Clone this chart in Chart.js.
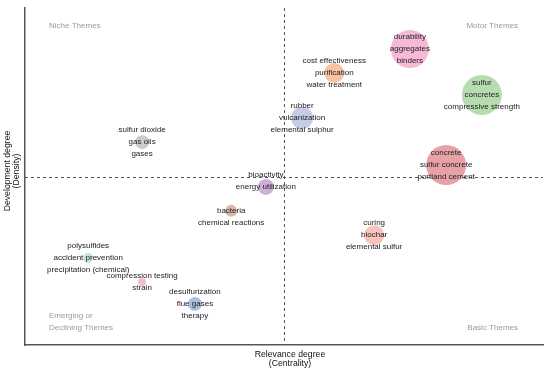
<!DOCTYPE html>
<html>
<head>
<meta charset="utf-8">
<script src="https://cdn.jsdelivr.net/npm/chart.js@4/dist/chart.umd.min.js"></script>
<style>
  html, body { margin: 0; padding: 0; background: #ffffff; }
  #wrap { width: 550px; height: 369px; position: relative; }
</style>
</head>
<body>
<div id="wrap"><canvas id="c" width="550" height="369"></canvas></div>
<script>
// Theme labels (each cluster's top keywords)
const themeLabels = [
  ["sulfur dioxide", "gas oils", "gases"],
  ["durability", "aggregates", "binders"],
  ["cost effectiveness", "purification", "water treatment"],
  ["sulfur", "concretes", "compressive strength"],
  ["rubber", "vulcanization", "elemental sulphur"],
  ["concrete", "sulfur concrete", "portland cement"],
  ["bioactivity", "energy utilization"],
  ["bacteria", "chemical reactions"],
  ["curing", "biochar", "elemental sulfur"],
  ["polysulfides", "accident prevention", "precipitation (chemical)"],
  ["compression testing", "strain"],
  ["desulfurization", "flue gases", "therapy"]
];
// Relevance degree (centrality), 0-100 scale
const centrality = [22.6, 74.3, 59.7, 88.2, 53.5, 81.3, 46.5, 39.8, 67.4, 12.2, 22.6, 32.8];
// Development degree (density), 0-100 scale
const density = [60.2, 87.8, 80.7, 74.2, 67.4, 53.4, 46.9, 39.8, 32.6, 25.8, 18.7, 12.2];
// Bubble size (theme weight)
const bubbleSize = [7, 19, 10, 20, 11, 20, 8, 6, 10, 5, 4, 7];
// Theme colours
const themeColors = ["#cbcbcb", "#f6b9d6", "#f8c3a2", "#b6dcb0", "#c6cce6", "#e8a2a6",
                     "#cdaed7", "#d9b8aa", "#f9c3bb", "#c4e6d3", "#f2bcd6", "#aabfdc"];
// Which label line sits on the bubble centre (null = centred block)
const labelAnchorLine = [null, null, null, null, null, null, 1, 0, null, null, null, null];
// Median split values
const medianX = 50;
const medianY = 50;

const points = centrality.map((x, i) => ({ x: x, y: density[i], r: bubbleSize[i] }));

const FONT = '"Liberation Sans", Arial, Helvetica, sans-serif';

const overlay = {
  id: 'overlay',
  beforeDatasetsDraw(chart) {
    const { ctx, chartArea: a, scales: { x, y } } = chart;
    ctx.save();
    ctx.strokeStyle = '#555';
    ctx.lineWidth = 1;
    ctx.setLineDash([3, 3]);
    const mx = Math.round(x.getPixelForValue(medianX)) + 0.5;
    const my = Math.round(y.getPixelForValue(medianY)) + 0.5;
    ctx.beginPath(); ctx.moveTo(mx, a.top); ctx.lineTo(mx, a.bottom); ctx.stroke();
    ctx.beginPath(); ctx.moveTo(a.left, my); ctx.lineTo(a.right, my); ctx.stroke();
    ctx.restore();
  },
  afterDatasetsDraw(chart) {
    const { ctx, chartArea: a } = chart;
    const meta = chart.getDatasetMeta(0);
    ctx.save();
    ctx.font = '8px ' + FONT;
    ctx.fillStyle = '#222';
    ctx.textAlign = 'center';
    ctx.textBaseline = 'middle';
    const lh = 12;
    meta.data.forEach((el, i) => {
      const lines = themeLabels[i];
      const anchor = labelAnchorLine[i];
      const start = anchor === null ? -(lines.length - 1) / 2 : -anchor;
      lines.forEach((t, k) => {
        ctx.fillText(t, el.x, el.y + (start + k) * lh);
      });
    });
    // quadrant names
    ctx.fillStyle = '#9a9a9a';
    ctx.textAlign = 'left';
    ctx.fillText('Niche Themes', a.left + 24, a.top + 18);
    ctx.fillText('Emerging or', a.left + 24, a.bottom - 29);
    ctx.fillText('Declining Themes', a.left + 24, a.bottom - 17);
    ctx.textAlign = 'right';
    ctx.fillText('Motor Themes', a.right - 25, a.top + 18);
    ctx.fillText('Basic Themes', a.right - 25, a.bottom - 17);
    // axis titles
    ctx.fillStyle = '#111';
    ctx.font = '8.7px ' + FONT;
    ctx.textAlign = 'center';
    ctx.fillText('Relevance degree', 290, 355);
    ctx.fillText('(Centrality)', 290, 364);
    ctx.translate(12, 171);
    ctx.rotate(-Math.PI / 2);
    ctx.fillText('Development degree', 0, -4);
    ctx.fillText('(Density)', 0, 5);
    ctx.restore();
  }
};

new Chart(document.getElementById('c'), {
  type: 'bubble',
  data: {
    datasets: [{
      data: points,
      backgroundColor: themeColors,
      borderWidth: 0,
      hoverBorderWidth: 0
    }]
  },
  options: {
    responsive: false,
    animation: false,
    devicePixelRatio: 1,
    layout: { autoPadding: false, padding: { left: 25, right: 7, top: 8, bottom: 24 } },
    plugins: { legend: { display: false }, tooltip: { enabled: false } },
    scales: {
      x: {
        type: 'linear', min: 0, max: 100,
        grid: { display: false, drawTicks: false },
        ticks: { display: false },
        border: { display: true, color: '#555', width: 1.5 },
        title: { display: false }
      },
      y: {
        type: 'linear', min: 0, max: 100,
        grid: { display: false, drawTicks: false },
        ticks: { display: false },
        border: { display: true, color: '#555', width: 1.5 },
        title: { display: false }
      }
    }
  },
  plugins: [overlay]
});
</script>
</body>
</html>
